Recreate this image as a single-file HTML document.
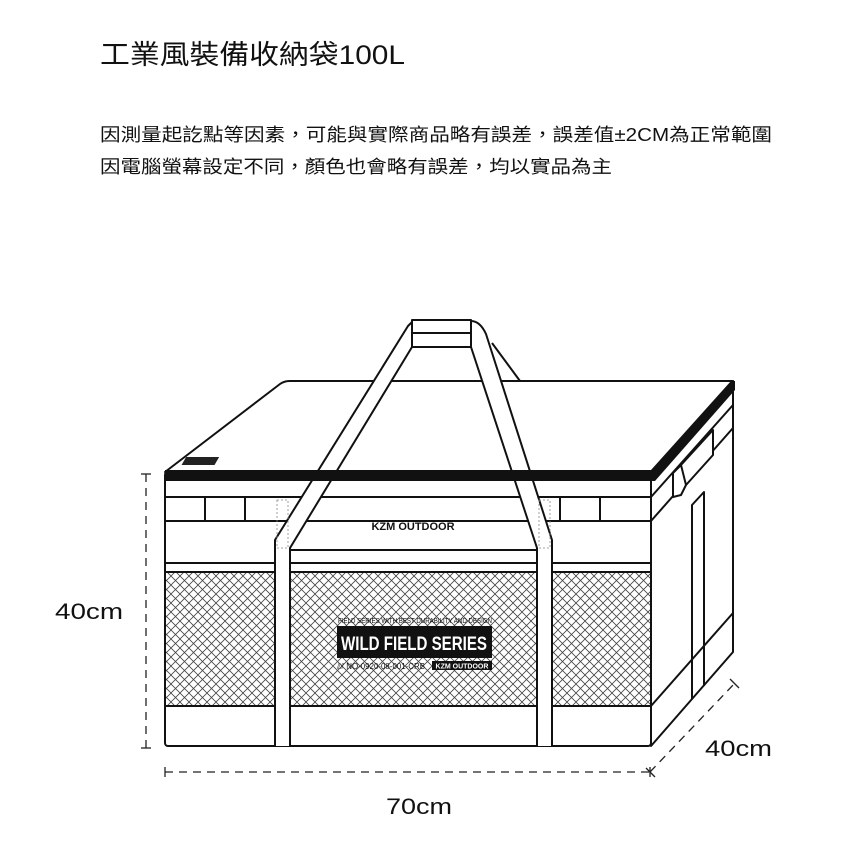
<!DOCTYPE html>
<html><head><meta charset="utf-8"><style>
html,body{margin:0;padding:0;background:#fff;}
svg{display:block;}
text{font-family:"Liberation Sans","Noto Sans CJK TC",sans-serif;fill:#111;}
</style></head><body>
<svg width="860" height="853" viewBox="0 0 860 853" xmlns="http://www.w3.org/2000/svg">
<defs>
<pattern id="mesh" width="9" height="9" patternUnits="userSpaceOnUse">
<path d="M0 0L9 9M9 0L0 9" stroke="#444" stroke-width="0.8"/>
</pattern>
</defs>
<text x="100" y="64" font-size="27" textLength="305" lengthAdjust="spacingAndGlyphs">工業風裝備收納袋100L</text>
<text x="100" y="141" font-size="18" textLength="672" lengthAdjust="spacingAndGlyphs">因測量起訖點等因素，可能與實際商品略有誤差，誤差值±2CM為正常範圍</text>
<text x="100" y="173" font-size="18" textLength="512" lengthAdjust="spacingAndGlyphs">因電腦螢幕設定不同，顏色也會略有誤差，均以實品為主</text>

<g fill="none" stroke="#111" stroke-width="2" stroke-linejoin="round">
<path d="M165 472 L280 384 Q284 381 290 381 L733 381 L651 472 Z" fill="#fff"/>
<path d="M390 381 L403 345 M492 343 L520 381"/>
<path d="M651 472 L733 381 L733 652 L651 746 Z" fill="#fff"/>
<rect x="165" y="472" width="486" height="274" rx="3" fill="#fff"/>
<line x1="165" y1="497" x2="651" y2="497"/>
<line x1="165" y1="521" x2="651" y2="521"/>
<line x1="205" y1="497" x2="205" y2="521"/>
<line x1="245" y1="497" x2="245" y2="521"/>
<line x1="560" y1="497" x2="560" y2="521"/>
<line x1="600" y1="497" x2="600" y2="521"/>
<line x1="290" y1="550" x2="537" y2="550"/>
<line x1="165" y1="563" x2="651" y2="563"/>
<rect x="165" y="572" width="486" height="134" fill="url(#mesh)"/>
<line x1="165" y1="572" x2="651" y2="572"/>
<line x1="165" y1="706" x2="651" y2="706"/>
<line x1="651" y1="497" x2="733" y2="405"/>
<line x1="651" y1="521" x2="733" y2="428"/>
<line x1="651" y1="706" x2="733" y2="613"/>
<path d="M692 699 L692 505 L704 492 L704 686"/>
<path d="M673 497 L673 473 L681 465 L713 430 L713 455 L686 485 L681 495 Z" fill="#fff"/>
<path d="M681 465 L686 485"/>
<path d="M275 746 L275 540 L408 326 L412 322 L412 347 L290 548 L290 746" fill="#fff"/>
<path d="M552 746 L552 540 L486 334 Q480 321 471 321 L471 347 L537 548 L537 746" fill="#fff"/>
<rect x="412" y="320" width="59" height="27" fill="#fff"/>
<line x1="412" y1="333" x2="471" y2="333"/>
</g>
<path d="M165 470 L651 470 L651 481 L165 481 Z" fill="#111"/>
<path d="M651 470 L731 381 L735 381 L735 390 L655 481 L651 481 Z" fill="#111"/>
<rect x="186" y="457" width="33" height="8" fill="#222" transform="skewX(-30) translate(264 0)"/>
<rect x="277" y="500" width="11" height="48" fill="none" stroke="#888" stroke-dasharray="2 2" stroke-width="0.8"/>
<rect x="539" y="500" width="11" height="48" fill="none" stroke="#888" stroke-dasharray="2 2" stroke-width="0.8"/>
<text x="413" y="530" font-size="11" font-weight="bold" text-anchor="middle">KZM OUTDOOR</text>
<text x="338" y="623" font-size="7" textLength="154" lengthAdjust="spacingAndGlyphs">FIELD SERIES WITH BEST DURABILITY AND DESIGN</text>
<rect x="337" y="626" width="155" height="32" fill="#111"/>
<text x="414" y="650" font-size="19" font-weight="bold" text-anchor="middle" style="fill:#fff" textLength="146" lengthAdjust="spacingAndGlyphs">WILD FIELD SERIES</text>
<text x="337" y="669" font-size="8" textLength="88" lengthAdjust="spacingAndGlyphs">⫽⫽ NO-0920-08-001-CRB</text>
<rect x="432" y="661" width="60" height="9" fill="#111"/>
<text x="462" y="668.5" font-size="7" font-weight="bold" text-anchor="middle" style="fill:#fff">KZM OUTDOOR</text>

<g stroke="#222" stroke-width="1.3" fill="none">
<line x1="146" y1="474" x2="146" y2="748" stroke-dasharray="8 6"/>
<line x1="141" y1="474" x2="151" y2="474"/>
<line x1="141" y1="748" x2="151" y2="748"/>
<line x1="165" y1="772" x2="650" y2="772" stroke-dasharray="8 6"/>
<line x1="165" y1="767" x2="165" y2="777"/>
<line x1="650" y1="767" x2="650" y2="777"/>
<line x1="650" y1="772" x2="735" y2="683" stroke-dasharray="8 6"/>
<line x1="646" y1="768" x2="655" y2="777"/>
<line x1="730" y1="679" x2="739" y2="688"/>
</g>
<text x="55" y="619" font-size="22" textLength="68" lengthAdjust="spacingAndGlyphs">40cm</text>
<text x="705" y="756" font-size="22" textLength="67" lengthAdjust="spacingAndGlyphs">40cm</text>
<text x="386" y="814" font-size="22" textLength="66" lengthAdjust="spacingAndGlyphs">70cm</text>
</svg>
</body></html>
